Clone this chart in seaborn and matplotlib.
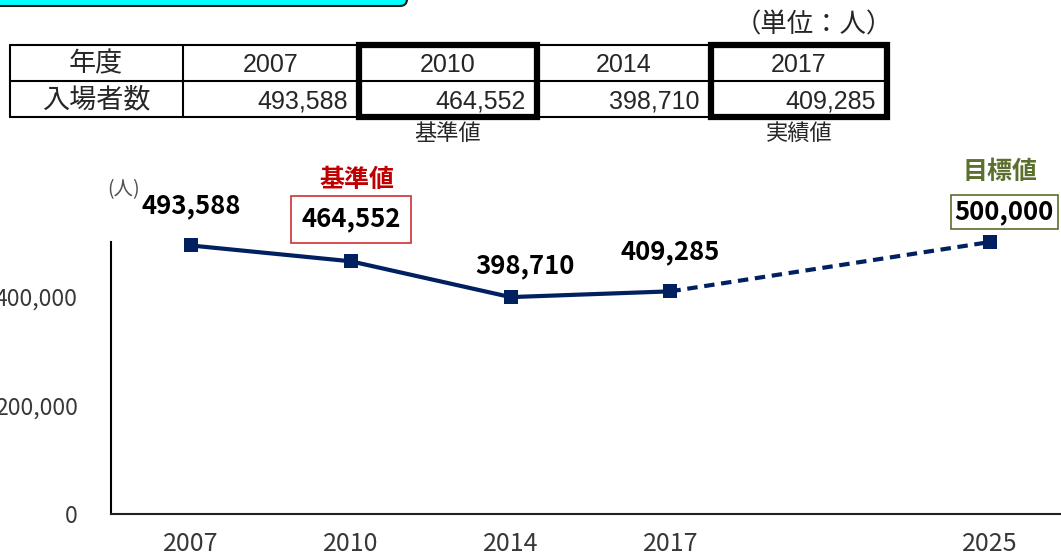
import seaborn as sns
import pandas as pd
import matplotlib.pyplot as plt
from matplotlib.patches import FancyBboxPatch, Rectangle
from matplotlib.lines import Line2D
from matplotlib.ticker import StrMethodFormatter

#%% data

years = ['2007', '2010', '2014', '2017', '2025']
visitors = [493588, 464552, 398710, 409285, 500000]
x_slots = ['2007', '2010', '2014', '2017', '', '2025']   # excel chart keeps an empty slot
table_years = ['2007', '2010', '2014', '2017']
y_ticks = [0, 200000, 400000]

navy = '#002060'
red = '#C00000'
olive = '#5B6F2E'
jp = ['Noto Sans CJK JP', 'DejaVu Sans']
tbl = ['Liberation Sans', 'Noto Sans CJK JP']

df = pd.DataFrame({'Year': years, 'Visitors': visitors})
df['Slot'] = [x_slots.index(y) for y in df['Year']]
actual = df[df['Year'] != '2025']
target = df[df['Year'].isin(['2017', '2025'])]

#%% plot

sns.set_style("white")
plt.rcParams['font.family'] = jp

fig = plt.figure(figsize=(10.61, 5.55), dpi=100)
ax = fig.add_axes([111/1061, 41/555, 959/1061, 272/555])

sns.lineplot(data=target, x='Slot', y='Visitors', color=navy, linewidth=3,
             linestyle='--', dashes=False, ax=ax, clip_on=False)
ax.lines[-1].set_dashes((2.5, 1.6))
sns.lineplot(data=actual, x='Slot', y='Visitors', color=navy, linewidth=3,
             marker='s', markersize=10, markeredgewidth=0, ax=ax, clip_on=False)
sns.scatterplot(data=target.iloc[1:], x='Slot', y='Visitors', color=navy, marker='s',
                s=100, linewidth=0, ax=ax, clip_on=False, zorder=5)

ax.set_xlim(-0.5, len(x_slots) - 0.5)
ax.set_ylim(0, 500000)
ax.set_xticks(range(len(x_slots)))
ax.set_xticklabels(x_slots)
ax.set_yticks(y_ticks)
ax.yaxis.set_major_formatter(StrMethodFormatter('{x:,.0f}'))
ax.tick_params(axis='both', length=0, labelcolor='#383838')
ax.tick_params(axis='x', labelsize=18, pad=12)
ax.tick_params(axis='y', labelsize=16.5, pad=24)
ax.set_xlabel('')
ax.set_ylabel('')
sns.despine(ax=ax)
ax.spines['left'].set_linewidth(1.5)
ax.spines['bottom'].set_linewidth(1.5)
ax.spines['left'].set_color('black')
ax.spines['bottom'].set_color('#202020')

# data labels (offsets in pixels from the points)
label_offsets = {'2007': (0, 40), '2010': (0, 42), '2014': (14, 31),
                 '2017': (0, 40), '2025': (14, 30)}
for _, r in df.iterrows():
    dx, dy = label_offsets[r['Year']]
    box = None
    if r['Year'] == '2010':
        box = dict(boxstyle='square,pad=0.4', fc='white', ec='#D03030', lw=1.2)
    if r['Year'] == '2025':
        box = dict(boxstyle='square,pad=0.15', fc='white', ec=olive, lw=1.2)
    ax.annotate(f"{r['Visitors']:,}", (r['Slot'], r['Visitors']), xytext=(dx, dy),
                textcoords='offset pixels', ha='center', va='center', fontsize=18.5,
                fontweight='bold', color='black', bbox=box, annotation_clip=False)

ax.annotate('基準値', (x_slots.index('2010'), visitors[1]), xytext=(6, 81),
            textcoords='offset pixels', ha='center', va='center', fontsize=18,
            fontweight='bold', color=red, annotation_clip=False)
ax.annotate('目標値', (x_slots.index('2025'), visitors[4]), xytext=(10, 70),
            textcoords='offset pixels', ha='center', va='center', fontsize=18,
            fontweight='bold', color=olive, annotation_clip=False)

#%% overlay in pixel coords: banner, table, notes

ov = fig.add_axes([0, 0, 1, 1])
ov.set_xlim(0, 1061)
ov.set_ylim(555, 0)
ov.axis('off')

ov.add_patch(FancyBboxPatch((-20, -30), 427, 36, boxstyle='round,pad=0,rounding_size=7',
                            fc='#00FFFF', ec='#1A1A1A', lw=1.5))

ov.text(124, 190, '(人)', fontsize=14, color='#505050', ha='center', va='center')

col_edges = [10, 183, 359, 537, 711, 887]
row_edges = [45, 81, 117]
for x in col_edges:
    ov.add_line(Line2D([x, x], [row_edges[0], row_edges[-1]], color='black', lw=1.5))
for y in row_edges:
    ov.add_line(Line2D([col_edges[0], col_edges[-1]], [y, y], color='black', lw=1.5))
for i in [2, 4]:
    ov.add_patch(Rectangle((col_edges[i], row_edges[0]), col_edges[i+1] - col_edges[i],
                           row_edges[-1] - row_edges[0], fill=False, ec='black', lw=4.5))

row_mid = [(row_edges[0] + row_edges[1]) / 2, (row_edges[1] + row_edges[2]) / 2]
ov.text(96, row_mid[0] + 1, '年度', fontsize=19.5, family=tbl, ha='center', va='center')
ov.text(96, row_mid[1] + 1, '入場者数', fontsize=19.5, family=tbl, ha='center', va='center')
for i, (yr, v) in enumerate(zip(table_years, visitors)):
    left, right = col_edges[i+1], col_edges[i+2]
    ov.text((left + right) / 2, row_mid[0] + 2, yr, fontsize=18, family=tbl,
            ha='center', va='center')
    ov.text(right - 11, row_mid[1] + 2, f'{v:,}', fontsize=18, family=tbl,
            ha='right', va='center')

ov.text(893, 25, '（単位：人）', fontsize=19, ha='right', va='center')
ov.text((col_edges[2] + col_edges[3]) / 2, 133, '基準値', fontsize=16, ha='center', va='center')
ov.text((col_edges[4] + col_edges[5]) / 2, 133, '実績値', fontsize=16, ha='center', va='center')

fig.savefig('out.png', dpi=100)
